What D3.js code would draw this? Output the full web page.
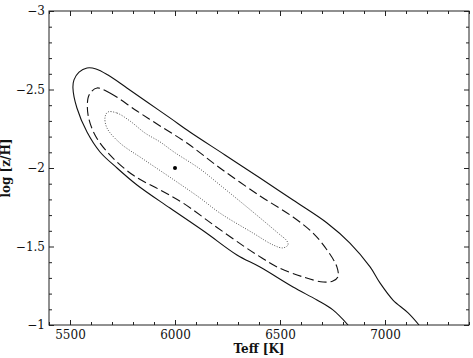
<!DOCTYPE html>
<html>
<head>
<meta charset="utf-8">
<script src="https://cdn.jsdelivr.net/npm/d3@7"></script>
<style>
  body { margin: 0; background: #fff; }
  svg { display: block; }
  text { font-family: "DejaVu Serif", serif; fill: #111; }
</style>
</head>
<body>
<svg id="grafico"></svg>
<script>
// contorno externo (aberto na parte de baixo)
let solidTeff = [6824, 6752, 6676, 6562, 6405, 6295, 6143, 5976, 5819, 5724, 5643, 5581, 5533, 5514, 5519, 5543, 5581, 5624, 5681, 5771, 5867, 5976, 6071, 6238, 6405, 6562, 6724, 6833, 6929, 6976, 7038, 7110, 7162];
let solidLogZ = [-1.0, -1.096, -1.159, -1.242, -1.369, -1.446, -1.592, -1.745, -1.892, -2.0, -2.102, -2.229, -2.382, -2.51, -2.561, -2.611, -2.637, -2.631, -2.592, -2.51, -2.42, -2.319, -2.229, -2.083, -1.936, -1.796, -1.65, -1.522, -1.37, -1.268, -1.159, -1.077, -1.0];

// contorno tracejado (fechado)
let dashedTeff = [5629, 5690, 5819, 5929, 6057, 6214, 6405, 6562, 6657, 6724, 6771, 6776, 6752, 6705, 6610, 6486, 6414, 6333, 6190, 6038, 5929, 5800, 5690, 5619, 5586, 5586, 5600];
let dashedLogZ = [-2.51, -2.478, -2.363, -2.268, -2.159, -2.0, -1.822, -1.688, -1.586, -1.478, -1.37, -1.306, -1.28, -1.274, -1.306, -1.37, -1.427, -1.497, -1.631, -1.777, -1.86, -1.955, -2.083, -2.21, -2.338, -2.446, -2.484];

// contorno pontilhado (fechado)
let dottedTeff = [5681, 5724, 5786, 5857, 5929, 5995, 6119, 6214, 6371, 6490, 6533, 6538, 6514, 6467, 6371, 6214, 6119, 5995, 5848, 5738, 5676, 5667];
let dottedLogZ = [-2.357, -2.35, -2.299, -2.223, -2.166, -2.102, -1.994, -1.892, -1.72, -1.586, -1.535, -1.51, -1.491, -1.51, -1.586, -1.713, -1.809, -1.924, -2.057, -2.159, -2.255, -2.325];

// melhor ajuste
let bestTeff = [6000];
let bestLogZ = [-2.0];

let xTicks = [5500, 6000, 6500, 7000];
let yTicks = [-3, -2.5, -2, -1.5, -1];

let largura = 473, altura = 358;
let esq = 49, dir = 469, topo = 11, base = 325;

let svg = d3.select("#grafico")
    .attr("width", largura)
    .attr("height", altura);

let fnX = d3.scaleLinear().domain([5400, 7400]).range([esq, dir]);
let fnY = d3.scaleLinear().domain([-1, -3]).range([base, topo]);

let fmt = d => d3.format("")(d).replace("-", "\u2212");
let xMinor = d3.range(5400, 7401, 100).filter(d => d % 500 !== 0);
let yMinor = d3.range(-30, -9, 1).map(d => d / 10).filter(d => Math.round(d * 10) % 5 !== 0);

function eixo(g) {
    g.select(".domain").remove();
    g.selectAll("line").attr("stroke", "#222");
    g.selectAll("text").attr("font-size", "12px");
}

// eixos: marcas para dentro nos quatro lados
svg.append("g").attr("transform", `translate(0,${base})`)
    .call(d3.axisBottom(fnX).tickValues(xTicks).tickFormat(fmt).tickSize(-5).tickPadding(5)).call(eixo);
svg.append("g").attr("transform", `translate(0,${base})`)
    .call(d3.axisBottom(fnX).tickValues(xMinor).tickFormat("").tickSize(-3)).call(eixo);
svg.append("g").attr("transform", `translate(0,${topo})`)
    .call(d3.axisTop(fnX).tickValues(xTicks).tickFormat("").tickSize(-5)).call(eixo);
svg.append("g").attr("transform", `translate(0,${topo})`)
    .call(d3.axisTop(fnX).tickValues(xMinor).tickFormat("").tickSize(-3)).call(eixo);

svg.append("g").attr("transform", `translate(${esq},0)`)
    .call(d3.axisLeft(fnY).tickValues(yTicks).tickFormat(fmt).tickSize(-5).tickPadding(4)).call(eixo);
svg.append("g").attr("transform", `translate(${esq},0)`)
    .call(d3.axisLeft(fnY).tickValues(yMinor).tickFormat("").tickSize(-3)).call(eixo);
svg.append("g").attr("transform", `translate(${dir},0)`)
    .call(d3.axisRight(fnY).tickValues(yTicks).tickFormat("").tickSize(-5)).call(eixo);
svg.append("g").attr("transform", `translate(${dir},0)`)
    .call(d3.axisRight(fnY).tickValues(yMinor).tickFormat("").tickSize(-3)).call(eixo);

svg.append("rect")
    .attr("x", esq).attr("y", topo)
    .attr("width", dir - esq).attr("height", base - topo)
    .attr("fill", "none").attr("stroke", "#222").attr("stroke-width", 1);

// contornos
let plot = svg.append("g");
plot.append("clipPath").attr("id", "clip")
    .append("rect").attr("x", esq).attr("y", topo).attr("width", dir - esq).attr("height", base - topo);

let aberta = d3.line().x(d => fnX(d[0])).y(d => fnY(d[1])).curve(d3.curveCatmullRom);
let fechada = d3.line().x(d => fnX(d[0])).y(d => fnY(d[1])).curve(d3.curveCatmullRomClosed);

plot.append("path")
    .attr("d", aberta(d3.zip(solidTeff, solidLogZ)))
    .attr("clip-path", "url(#clip)")
    .attr("fill", "none").attr("stroke", "#111").attr("stroke-width", 1.1);

plot.append("path")
    .attr("d", fechada(d3.zip(dashedTeff, dashedLogZ)))
    .attr("fill", "none").attr("stroke", "#111").attr("stroke-width", 1.1)
    .attr("stroke-dasharray", "9,4");

plot.append("path")
    .attr("d", fechada(d3.zip(dottedTeff, dottedLogZ)))
    .attr("fill", "none").attr("stroke", "#555").attr("stroke-width", 1)
    .attr("stroke-dasharray", "1,1.6");

plot.selectAll(".ponto")
    .data(d3.zip(bestTeff, bestLogZ))
    .enter()
    .append("circle")
    .classed("ponto", true)
    .attr("cx", d => fnX(d[0]))
    .attr("cy", d => fnY(d[1]))
    .attr("r", 2)
    .attr("fill", "#000");

// rotulos dos eixos
svg.append("text")
    .attr("x", (esq + dir) / 2)
    .attr("y", 353)
    .attr("text-anchor", "middle")
    .attr("font-size", "12px")
    .attr("font-weight", "bold")
    .text("Teff [K]");

svg.append("text")
    .attr("transform", `translate(10,${(topo + base) / 2}) rotate(-90)`)
    .attr("text-anchor", "middle")
    .attr("font-size", "12px")
    .attr("font-weight", "bold")
    .text("log [z/H]");
</script>
</body>
</html>
